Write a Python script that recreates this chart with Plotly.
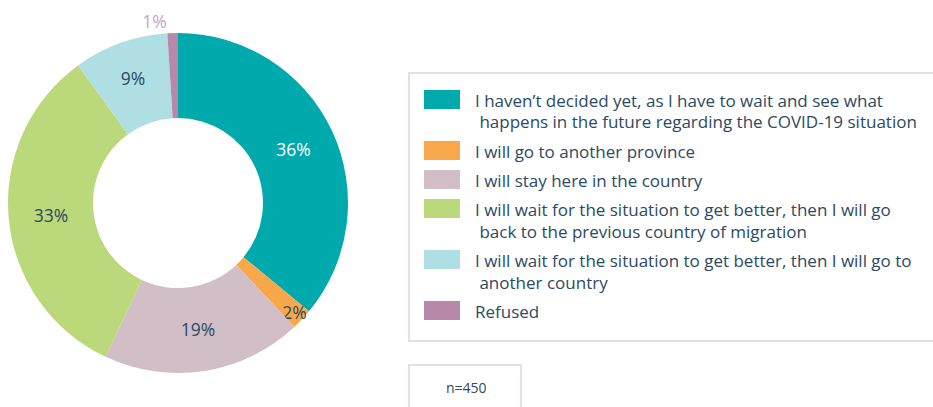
import plotly.graph_objects as go

W, H = 933, 407

categories = [
    "I haven't decided yet, as I have to wait and see what happens in the future regarding the COVID-19 situation",
    "I will go to another province",
    "I will stay here in the country",
    "I will wait for the situation to get better, then I will go back to the previous country of migration",
    "I will wait for the situation to get better, then I will go to another country",
    "Refused",
]
legend_lines = [
    ["I haven\u2019t decided yet, as I have to wait and see what", " happens in the future regarding the COVID-19 situation"],
    ["I will go to another province"],
    ["I will stay here in the country"],
    ["I will wait for the situation to get better, then I will go", " back to the previous country of migration"],
    ["I will wait for the situation to get better, then I will go to", " another country"],
    ["Refused"],
]
values = [36, 2, 19, 33, 9, 1]
colors = ["#00A9AC", "#F9A74B", "#D2BEC6", "#BBD87A", "#AFDFE3", "#B888AA"]
label_colors = ["#FFFFFF", "#2B4A63", "#2B4A63", "#2B4A63", "#2B4A63", "#C9A3C2"]
text_pos = ["inside", "inside", "inside", "inside", "inside", "outside"]
sample_note = "n=450"

FONT = "Open Sans"
TEXT = "#2B4A63"
BORDER = "#E8DFE3"

def px(x):
    return x / W

def py(y):
    return 1 - y / H

fig = go.Figure()
fig.add_trace(go.Pie(
    labels=categories,
    values=values,
    hole=0.5,
    sort=False,
    direction="clockwise",
    rotation=0,
    marker=dict(colors=colors, line=dict(width=0)),
    texttemplate="%{value}%",
    textposition=text_pos,
    insidetextorientation="horizontal",
    textfont=dict(family=FONT, size=17.5, color=label_colors),
    outsidetextfont=dict(family=FONT, size=17.5, color=label_colors),
    showlegend=False,
    domain=dict(x=[px(8), px(348)], y=[py(373), py(33)]),
))

shapes = []
annotations = []

# legend frame
shapes.append(dict(type="rect", xref="paper", yref="paper",
                   x0=px(409), x1=px(945), y0=py(341), y1=py(73),
                   line=dict(color=BORDER, width=2), fillcolor="rgba(0,0,0,0)"))

y_line = 100
for i, lines in enumerate(legend_lines):
    shapes.append(dict(type="rect", xref="paper", yref="paper",
                       x0=px(424), x1=px(460), y0=py(y_line + 9), y1=py(y_line - 10),
                       line=dict(width=0), fillcolor=colors[i]))
    for j, t in enumerate(lines):
        annotations.append(dict(
            xref="paper", yref="paper", x=px(473), y=py(y_line + j * 22),
            xanchor="left", yanchor="middle", showarrow=False, text=t,
            font=dict(family=FONT, size=17, color=TEXT)))
    y_line += len(lines) * 22 + 7

# sample size box
shapes.append(dict(type="rect", xref="paper", yref="paper",
                   x0=px(409), x1=px(521), y0=py(412), y1=py(365),
                   line=dict(color=BORDER, width=2), fillcolor="rgba(0,0,0,0)"))
annotations.append(dict(xref="paper", yref="paper", x=px(466), y=py(387),
                        xanchor="center", yanchor="middle", showarrow=False,
                        text=sample_note, font=dict(family=FONT, size=14, color=TEXT)))

fig.update_layout(
    width=W, height=H,
    margin=dict(l=0, r=0, t=0, b=0),
    paper_bgcolor="white", plot_bgcolor="white",
    uniformtext=dict(minsize=17.5, mode="show"),
    shapes=shapes, annotations=annotations,
)

fig.write_html("out.html")
